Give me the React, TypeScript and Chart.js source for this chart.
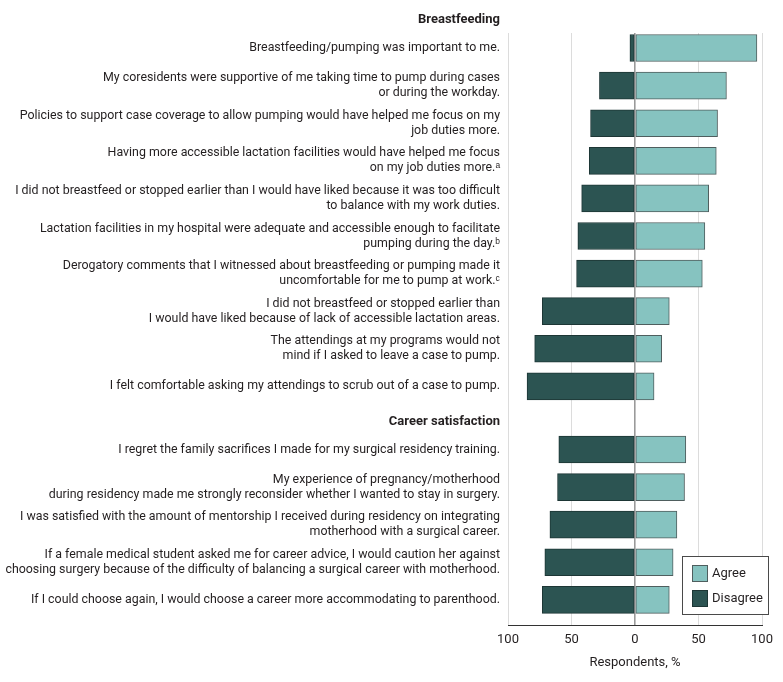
import React, { useEffect, useRef } from "react";
import { Chart, registerables } from "chart.js";

Chart.register(...registerables);

// ---------- Data ----------
const sectionTitles = ["Breastfeeding", "Career satisfaction"];

const breastfeedingStatements: (string | string[])[] = [
  "Breastfeeding/pumping was important to me.",
  ["My coresidents were supportive of me taking time to pump during cases", "or during the workday."],
  ["Policies to support case coverage to allow pumping would have helped me focus on my", "job duties more."],
  ["Having more accessible lactation facilities would have helped me focus", "on my job duties more.\u1D43"],
  ["I did not breastfeed or stopped earlier than I would have liked because it was too difficult", "to balance with my work duties."],
  ["Lactation facilities in my hospital were adequate and accessible enough to facilitate", "pumping during the day.\u1D47"],
  ["Derogatory comments that I witnessed about breastfeeding or pumping made it", "uncomfortable for me to pump at work.\u1D9C"],
  ["I did not breastfeed or stopped earlier than", "I would have liked because of lack of accessible lactation areas."],
  ["The attendings at my programs would not", "mind if I asked to leave a case to pump."],
  "I felt comfortable asking my attendings to scrub out of a case to pump.",
];
const breastfeedingAgree = [96, 72, 65, 64, 58, 55, 53, 27, 21, 15];
const breastfeedingDisagree = [4, 28, 35, 36, 42, 45, 46, 73, 79, 85];

const careerStatements: (string | string[])[] = [
  "I regret the family sacrifices I made for my surgical residency training.",
  ["My experience of pregnancy/motherhood", "during residency made me strongly reconsider whether I wanted to stay in surgery."],
  ["I was satisfied with the amount of mentorship I received during residency on integrating", "motherhood with a surgical career."],
  ["If a female medical student asked me for career advice, I would caution her against", "choosing surgery because of the difficulty of balancing a surgical career with motherhood."],
  "If I could choose again, I would choose a career more accommodating to parenthood.",
];
const careerAgree = [40, 39, 33, 30, 27];
const careerDisagree = [60, 61, 67, 71, 73];

const seriesLabels = ["Agree", "Disagree"];
const xTickValues = [-100, -50, 0, 50, 100];
const xAxisTitle = "Respondents, %";

// ---------- Layout helpers (row index units) ----------
const SECTION_GAP = 0.68;
const HEADER_OFFSET = 0.75;

const sections = [
  { title: sectionTitles[0], statements: breastfeedingStatements, agree: breastfeedingAgree, disagree: breastfeedingDisagree },
  { title: sectionTitles[1], statements: careerStatements, agree: careerAgree, disagree: careerDisagree },
];

type Row = { pos: number; label: string | string[]; agree: number; disagree: number };
const rows: Row[] = [];
const headers: { title: string; pos: number }[] = [];
{
  let offset = 0;
  sections.forEach((s) => {
    headers.push({ title: s.title, pos: offset - HEADER_OFFSET });
    s.statements.forEach((label, j) => {
      rows.push({ pos: offset + j, label, agree: s.agree[j], disagree: s.disagree[j] });
    });
    offset += s.statements.length + SECTION_GAP;
  });
}

const FONT = "Roboto, 'Liberation Sans', sans-serif";
const FONT_SIZE = 13;
const LABEL_SIZE = 12.4;
const TEXT = "#231f20";
const AGREE_FILL = "#86c3c0";
const AGREE_BORDER = "#4f5e5e";
const DISAGREE_FILL = "#2c5452";
const DISAGREE_BORDER = "#1d3635";

const sectionHeaderPlugin = {
  id: "sectionHeaders",
  afterDraw(chart: any) {
    const { ctx, chartArea, scales } = chart;
    ctx.save();
    ctx.font = `bold ${FONT_SIZE}px ${FONT}`;
    ctx.fillStyle = TEXT;
    ctx.textAlign = "right";
    ctx.textBaseline = "middle";
    headers.forEach((h) => {
      ctx.fillText(h.title, chartArea.left - 8, scales.y.getPixelForValue(h.pos));
    });
    ctx.restore();
  },
};

const boxLegendPlugin = {
  id: "boxLegend",
  afterDraw(chart: any) {
    const { ctx, chartArea } = chart;
    const w = 86;
    const h = 58;
    const x0 = chartArea.right + 6 - w;
    const y0 = chartArea.bottom - 11 - h;
    ctx.save();
    ctx.fillStyle = "#ffffff";
    ctx.fillRect(x0, y0, w, h);
    ctx.strokeStyle = "#4a4a4a";
    ctx.lineWidth = 1;
    ctx.strokeRect(Math.round(x0) + 0.5, Math.round(y0) + 0.5, w, h);
    ctx.font = `${FONT_SIZE}px ${FONT}`;
    ctx.textAlign = "left";
    ctx.textBaseline = "middle";
    chart.data.datasets.forEach((ds: any, i: number) => {
      const sx = Math.round(x0 + 10);
      const sy = Math.round(y0 + 9 + i * 25);
      ctx.fillStyle = ds.backgroundColor;
      ctx.fillRect(sx, sy, 15, 16);
      ctx.strokeStyle = ds.borderColor;
      ctx.strokeRect(sx + 0.5, sy + 0.5, 15, 16);
      ctx.fillStyle = TEXT;
      ctx.fillText(ds.label, sx + 20, sy + 8.5);
    });
    ctx.restore();
  },
};

export default function App() {
  const canvasRef = useRef<HTMLCanvasElement | null>(null);

  useEffect(() => {
    if (!canvasRef.current) return;
    const positions = rows.map((r) => r.pos);
    const lastPos = positions[positions.length - 1];

    const chart = new Chart(canvasRef.current, {
      type: "bar",
      data: {
        datasets: [
          {
            label: seriesLabels[0],
            data: rows.map((r) => ({ x: r.agree, y: r.pos })),
            backgroundColor: AGREE_FILL,
            borderColor: AGREE_BORDER,
            borderWidth: 1,
            borderSkipped: false,
            barThickness: 27,
          },
          {
            label: seriesLabels[1],
            data: rows.map((r) => ({ x: -r.disagree, y: r.pos })),
            backgroundColor: DISAGREE_FILL,
            borderColor: DISAGREE_BORDER,
            borderWidth: 1,
            borderSkipped: false,
            barThickness: 27,
          },
        ],
      },
      options: {
        indexAxis: "y",
        responsive: false,
        animation: false,
        devicePixelRatio: 1,
        layout: { padding: { top: 33, right: 21, left: 0, bottom: 0 } },
        plugins: {
          legend: { display: false },
          tooltip: { enabled: false },
        },
        scales: {
          x: {
            type: "linear",
            stacked: true,
            min: xTickValues[0],
            max: xTickValues[xTickValues.length - 1],
            afterBuildTicks: (scale: any) => {
              scale.ticks = xTickValues.map((v) => ({ value: v }));
            },
            afterFit: (scale: any) => {
              scale.height = 57;
            },
            grid: {
              drawTicks: false,
              color: (ctx: any) => (ctx.tick && ctx.tick.value === 0 ? "#9a9a9a" : "#dcdcdc"),
              lineWidth: (ctx: any) => (ctx.tick && ctx.tick.value === 0 ? 1.6 : 1),
            },
            border: { display: true, color: "#333333", width: 1 },
            ticks: {
              padding: 7,
              color: TEXT,
              font: { family: FONT, size: FONT_SIZE },
              callback: (v: any) => String(Math.abs(Number(v))),
            },
            title: {
              display: true,
              text: xAxisTitle,
              color: TEXT,
              font: { family: FONT, size: FONT_SIZE, lineHeight: 1.2 },
              padding: { top: 0, bottom: 11 },
            },
          },
          y: {
            type: "linear",
            stacked: true,
            reverse: true,
            offset: false,
            min: -0.4,
            max: lastPos + 0.67,
            afterBuildTicks: (scale: any) => {
              scale.ticks = positions.map((v) => ({ value: v }));
            },
            afterFit: (scale: any) => {
              scale.width = 508;
            },
            grid: { display: false, drawTicks: false },
            border: { display: false },
            ticks: {
              autoSkip: false,
              padding: 8,
              color: TEXT,
              font: { family: FONT, size: LABEL_SIZE, lineHeight: 15 / LABEL_SIZE },
              callback: (_v: any, i: number) => rows[i].label,
            },
          },
        },
      },
      plugins: [sectionHeaderPlugin, boxLegendPlugin],
    } as any);

    return () => chart.destroy();
  }, []);

  return (
    <div style={{ position: "fixed", left: 0, top: 0, width: 783, height: 682, background: "#ffffff" }}>
      <canvas ref={canvasRef} width={783} height={682} />
    </div>
  );
}
